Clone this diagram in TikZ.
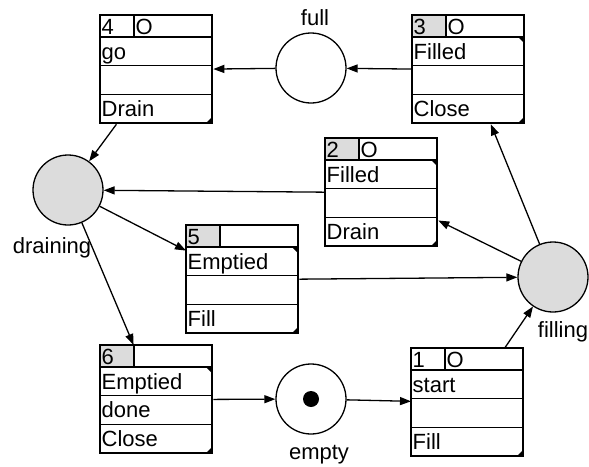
\documentclass[tikz,border=0pt]{standalone}
\usepackage{fontspec}
\setmainfont{Liberation Sans}
\usetikzlibrary{arrows.meta}
\definecolor{pgray}{HTML}{DCDCDC}
\tikzset{
  tb/.style={draw, line width=1.3pt, rectangle, minimum width=112pt, minimum height=108pt, inner sep=0pt, anchor=north west},
  rowline/.style={line width=1.3pt},
  txt/.style={anchor=base west, inner sep=0pt},
  place/.style={circle, draw, line width=1.3pt, minimum size=70pt, inner sep=0pt},
  arr/.style={line width=1.3pt, -{Triangle[length=11pt,width=8pt]}},
  plabel/.style={anchor=base, inner sep=0pt},
}
\newcommand\tbox[9]{%
  \node[tb] (#1) at (#2,#3) {};
  \begin{scope}[shift={(#1.north west)}]
    \fill[#6] (0,0) rectangle (34,22);
    \draw[rowline] (0,0) rectangle (112,108);
    \draw[rowline] (0,22) -- (112,22);
    \draw[rowline] (0,50.67) -- (112,50.67);
    \draw[rowline] (0,79.33) -- (112,79.33);
    \draw[rowline] (34,0) -- (34,22);
    \node[txt] at (1.5,19) {#4};
    \node[txt] at (35.5,19) {#5};
    \node[txt] at (1.5,44) {#7};
    \node[txt] at (1.5,72.5) {#8};
    \node[txt] at (1.5,101.5) {#9};
    \fill (112,108) -- (106,108) -- (112,102) -- cycle;
  \end{scope}}
\newcommand\toptri[1]{%
  \begin{scope}[shift={(#1.north west)}]
    \fill (112,22) -- (106,22) -- (112,28) -- cycle;
  \end{scope}}
\begin{document}
\begin{tikzpicture}[x=1pt,y=-1pt,font=\fontsize{22}{24}\selectfont]
\useasboundingbox (0,0) rectangle (589,466);
% transitions
\tbox{b4}{100}{15}{4}{O}{white}{go}{}{Drain}
\tbox{b3}{412}{15}{3}{O}{pgray}{Filled}{}{Close}
\tbox{b2}{325}{138}{2}{O}{pgray}{Filled}{}{Drain}
\tbox{b5}{186}{225}{5}{}{pgray}{Emptied}{}{Fill}
\tbox{b6}{100}{345}{6}{}{pgray}{Emptied}{done}{Close}
\tbox{b1}{411}{348}{1}{O}{white}{start}{}{Fill}
\toptri{b3}
\toptri{b2}
\toptri{b5}
\toptri{b6}
% places
\node[place] (full) at (311,68) {};
\node[place, fill=pgray] (draining) at (68,190) {};
\node[place, fill=pgray] (filling) at (553,277) {};
\node[place] (empty) at (311,399) {};
\fill (empty.center) circle (8pt);
% labels
\node[plabel] (lfull) at (315,25) {full};
\node[plabel] (ldraining) at (52,253) {draining};
\node[plabel] (lfilling) at (563,337) {filling};
\node[plabel] (lempty) at (319,459) {empty};
% arcs
\draw[arr] (full) -- (b4);
\draw[arr] (b3) -- (full);
\draw[arr] (b4) -- (draining);
\draw[arr] (b2) -- (draining);
\draw[arr] (draining) -- (b5);
\draw[arr] (draining) -- (b6);
\draw[arr] (b5) -- (filling);
\draw[arr] (filling) -- (b2);
\draw[arr] (filling) -- (b3);
\draw[arr] (b6) -- (empty);
\draw[arr] (empty) -- (b1);
\draw[arr] (b1) -- (filling);
\end{tikzpicture}
\end{document}
